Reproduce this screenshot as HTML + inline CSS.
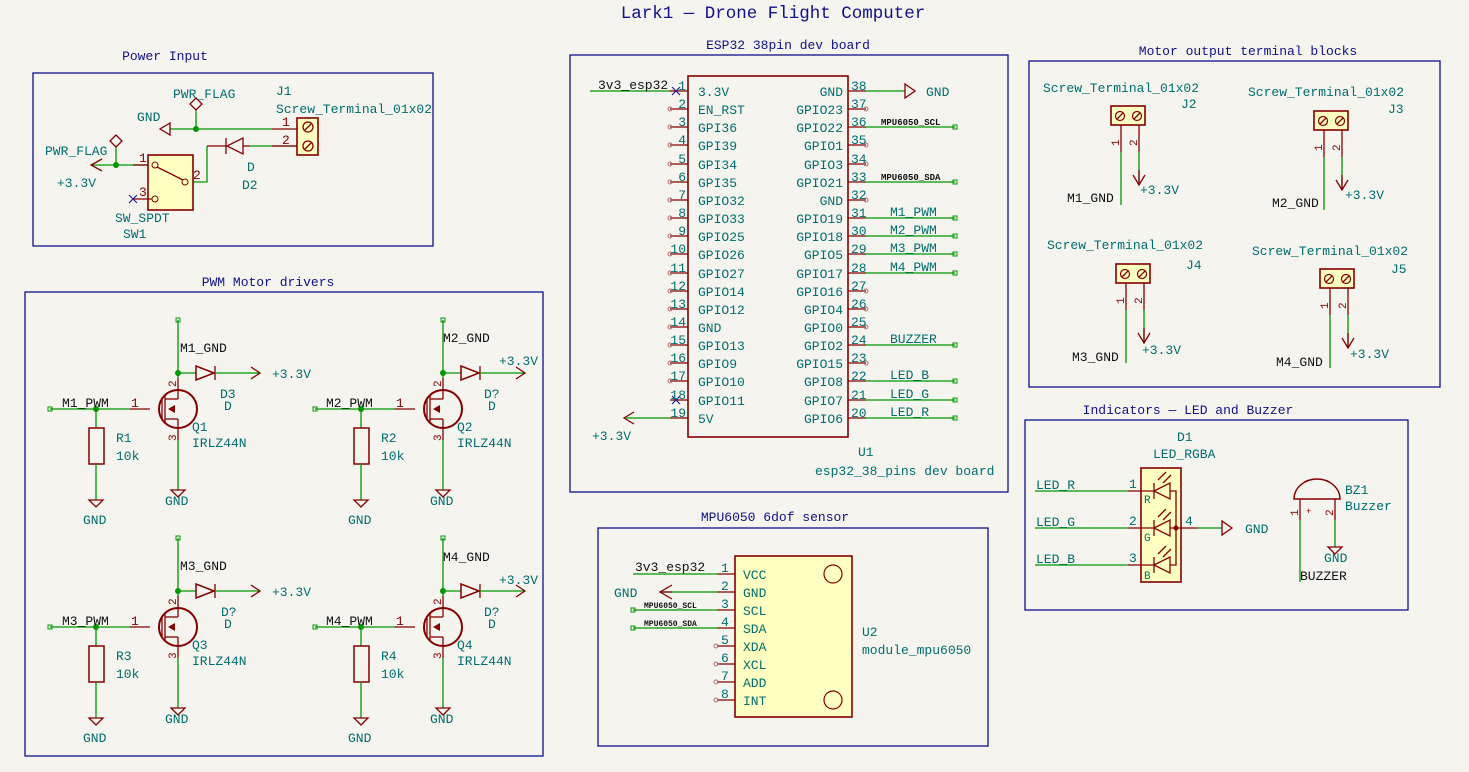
<!DOCTYPE html>
<html><head><meta charset="utf-8"><style>
html,body{margin:0;padding:0;background:#f5f4ef;}
svg{display:block;}
text{font-family:"Liberation Mono",monospace;font-size:13px;fill:#006e6e;}
.k{fill:#111;}
.r{fill:#840000;}
.s{font-size:9px;fill:#111;font-weight:bold;}
.ti{fill:#10108a;}
.w{stroke:#009600;stroke-width:1.3;fill:none;}
.p{stroke:#840000;stroke-width:1.3;fill:none;}
.b{stroke:#10108a;stroke-width:1.3;fill:none;}
.y{fill:#ffffc2;stroke:#840000;stroke-width:1.6;}
.j{fill:#009600;}
.nc{stroke:#2020a0;stroke-width:1.2;}
.oc{fill:none;stroke:#b07070;stroke-width:1;}
</style></head><body>
<svg width="1469" height="772" viewBox="0 0 1469 772" xmlns="http://www.w3.org/2000/svg">
<rect width="1469" height="772" fill="#f5f4ef"/>
<text x="773" y="18" text-anchor="middle" class="ti" style="font-size:17.5px">Lark1 — Drone Flight Computer</text>

<!-- Power Input -->
<rect x="33" y="73" width="400" height="173" class="b"/>
<text x="165" y="60" text-anchor="middle" class="ti">Power Input</text>
<text x="276" y="95">J1</text>
<text x="276" y="113">Screw_Terminal_01x02</text>
<rect x="297" y="118" width="21" height="37" class="y"/>
<circle cx="308" cy="127" r="5" fill="none" stroke="#840000" stroke-width="1.3"/>
<circle cx="308" cy="146" r="5" fill="none" stroke="#840000" stroke-width="1.3"/>
<line x1="305" y1="130" x2="311" y2="124" class="p"/><line x1="305" y1="149" x2="311" y2="143" class="p"/>
<line x1="170" y1="129" x2="272" y2="129" class="w"/><line x1="272" y1="129" x2="297" y2="129" class="p"/>
<text x="282" y="126" class="r">1</text><text x="282" y="144" class="r">2</text>
<path d="M170 123 L160 129 L170 135 Z" class="p"/>
<text x="137" y="121">GND</text>
<line x1="196" y1="129" x2="196" y2="110" class="w"/>
<path d="M196 98 L202 104 L196 110 L190 104 Z" class="p"/>
<text x="173" y="98">PWR_FLAG</text>
<circle cx="196" cy="129" r="3" class="j"/>
<line x1="250" y1="146" x2="297" y2="146" class="w"/><line x1="272" y1="146" x2="297" y2="146" class="p"/>
<path d="M243 138 L243 154 L227 146 Z" class="p"/><line x1="226" y1="138" x2="226" y2="154" class="p"/>
<line x1="243" y1="146" x2="250" y2="146" class="p"/><line x1="207" y1="146" x2="226" y2="146" class="p"/>
<path d="M207 146 L207 182 L193 182" class="w"/>
<text x="247" y="171">D</text><text x="242" y="189">D2</text>
<rect x="148" y="155" width="45" height="55" class="y"/>
<circle cx="155" cy="165" r="3" fill="none" stroke="#840000"/>
<circle cx="185" cy="182" r="3" fill="none" stroke="#840000"/>
<circle cx="155" cy="199" r="3" fill="none" stroke="#840000"/>
<line x1="157" y1="167" x2="183" y2="180" class="p"/>
<line x1="92" y1="165" x2="148" y2="165" class="w"/>
<line x1="133" y1="165" x2="148" y2="165" class="p"/>
<line x1="133" y1="199" x2="152" y2="199" class="p"/>
<text x="139" y="162" class="r">1</text><text x="139" y="196" class="r">3</text><text x="193" y="179" class="r">2</text>
<path d="M102 159 L91 165 L102 171" class="p"/>
<text x="57" y="187">+3.3V</text>
<line x1="116" y1="165" x2="116" y2="146" class="w"/>
<path d="M116 135 L122 141 L116 147 L110 141 Z" class="p"/>
<text x="45" y="155">PWR_FLAG</text>
<circle cx="116" cy="165" r="3" class="j"/>
<path d="M129 195 L137 203 M137 195 L129 203" class="nc"/>
<text x="115" y="222">SW_SPDT</text><text x="123" y="238">SW1</text>

<!-- PWM Motor drivers -->
<rect x="25" y="292" width="518" height="464" class="b"/>
<text x="268" y="286" text-anchor="middle" class="ti">PWM Motor drivers</text>

<g id="m1">
<line x1="50" y1="409" x2="130" y2="409" class="w"/><rect x="48" y="407" width="4" height="4" fill="none" stroke="#009600"/>
<line x1="130" y1="409" x2="150" y2="409" class="p"/>
<circle cx="96" cy="409" r="3" class="j"/>
<line x1="96" y1="409" x2="96" y2="428" class="w"/>
<rect x="89" y="428" width="15" height="36" fill="none" stroke="#840000" stroke-width="1.5"/>
<line x1="96" y1="464" x2="96" y2="500" class="w"/>
<path d="M89 500 L103 500 L96 507 Z" class="p"/>
<circle cx="178" cy="409" r="19" fill="none" stroke="#840000" stroke-width="2"/>
<line x1="162" y1="398" x2="162" y2="420" class="p"/><line x1="165" y1="396" x2="165" y2="422" class="p"/>
<line x1="165" y1="399" x2="178" y2="399" class="p"/><line x1="165" y1="419" x2="178" y2="419" class="p"/>
<line x1="178" y1="378" x2="178" y2="399" class="p"/><line x1="178" y1="419" x2="178" y2="440" class="p"/>
<path d="M168 409 L175 405 L175 413 Z" fill="#840000"/>
<line x1="178" y1="320" x2="178" y2="378" class="w"/><rect x="176" y="318" width="4" height="4" fill="none" stroke="#009600"/>
<line x1="178" y1="440" x2="178" y2="490" class="w"/>
<path d="M171 490 L185 490 L178 497 Z" class="p"/>
<circle cx="178" cy="373" r="3" class="j"/>
<line x1="178" y1="373" x2="196" y2="373" class="w"/>
<path d="M196 366 L196 380 L214 373 Z" fill="none" stroke="#840000" stroke-width="1.5"/><line x1="215" y1="366" x2="215" y2="380" class="p"/>
<line x1="215" y1="373" x2="260" y2="373" class="w"/>
<path d="M251 367 L260 373 L251 379" class="p"/>
<text x="0" y="0" class="r" transform="translate(176,387) rotate(-90)" style="font-size:11px">2</text>
<text x="0" y="0" class="r" transform="translate(176,441) rotate(-90)" style="font-size:11px">3</text>
</g>
<text x="62" y="407" class="k">M1_PWM</text><text x="131" y="407" class="r">1</text>
<text x="116" y="442">R1</text><text x="116" y="460">10k</text>
<text x="83" y="524">GND</text><text x="165" y="505">GND</text>
<text x="180" y="352" class="k">M1_GND</text><text x="272" y="378">+3.3V</text>
<text x="220" y="398">D3</text><text x="224" y="410">D</text>
<text x="192" y="431">Q1</text><text x="192" y="447">IRLZ44N</text>

<use href="#m1" transform="translate(265,0)"/>
<text x="326" y="407" class="k">M2_PWM</text><text x="396" y="407" class="r">1</text>
<text x="381" y="442">R2</text><text x="381" y="460">10k</text>
<text x="348" y="524">GND</text><text x="430" y="505">GND</text>
<text x="443" y="342" class="k">M2_GND</text><text x="499" y="365">+3.3V</text>
<text x="484" y="398">D?</text><text x="488" y="410">D</text>
<text x="457" y="431">Q2</text><text x="457" y="447">IRLZ44N</text>

<use href="#m1" transform="translate(0,218)"/>
<text x="62" y="625" class="k">M3_PWM</text><text x="131" y="625" class="r">1</text>
<text x="116" y="660">R3</text><text x="116" y="678">10k</text>
<text x="83" y="742">GND</text><text x="165" y="723">GND</text>
<text x="180" y="570" class="k">M3_GND</text><text x="272" y="596">+3.3V</text>
<text x="221" y="616">D?</text><text x="224" y="628">D</text>
<text x="192" y="649">Q3</text><text x="192" y="665">IRLZ44N</text>

<use href="#m1" transform="translate(265,218)"/>
<text x="326" y="625" class="k">M4_PWM</text><text x="396" y="625" class="r">1</text>
<text x="381" y="660">R4</text><text x="381" y="678">10k</text>
<text x="348" y="742">GND</text><text x="430" y="723">GND</text>
<text x="443" y="561" class="k">M4_GND</text><text x="499" y="584">+3.3V</text>
<text x="484" y="616">D?</text><text x="488" y="628">D</text>
<text x="457" y="649">Q4</text><text x="457" y="665">IRLZ44N</text>

<!-- ESP32 -->
<rect x="570" y="55" width="438" height="437" class="b"/>
<text x="788" y="49" text-anchor="middle" class="ti">ESP32 38pin dev board</text>
<rect x="688" y="76" width="160" height="361" fill="none" stroke="#840000" stroke-width="1.6"/>
<g class="p">
<path d="M670 91H688M670 109H688M670 127H688M670 145H688M670 164H688M670 182H688M670 200H688M670 218H688M670 236H688M670 254H688M670 273H688M670 291H688M670 309H688M670 327H688M670 345H688M670 363H688M670 381H688M670 400H688M670 418H688"/>
<path d="M848 91H866M848 109H866M848 127H866M848 145H866M848 164H866M848 182H866M848 200H866M848 218H866M848 236H866M848 254H866M848 273H866M848 291H866M848 309H866M848 327H866M848 345H866M848 363H866M848 381H866M848 400H866M848 418H866"/>
</g>
<g class="oc">
<circle cx="670" cy="109" r="2"/><circle cx="670" cy="127" r="2"/><circle cx="670" cy="145" r="2"/><circle cx="670" cy="164" r="2"/><circle cx="670" cy="182" r="2"/><circle cx="670" cy="200" r="2"/><circle cx="670" cy="218" r="2"/><circle cx="670" cy="236" r="2"/><circle cx="670" cy="254" r="2"/><circle cx="670" cy="273" r="2"/><circle cx="670" cy="291" r="2"/><circle cx="670" cy="309" r="2"/><circle cx="670" cy="327" r="2"/><circle cx="670" cy="345" r="2"/><circle cx="670" cy="363" r="2"/><circle cx="670" cy="381" r="2"/>
<circle cx="866" cy="109" r="2"/><circle cx="866" cy="145" r="2"/><circle cx="866" cy="164" r="2"/><circle cx="866" cy="200" r="2"/><circle cx="866" cy="291" r="2"/><circle cx="866" cy="309" r="2"/><circle cx="866" cy="327" r="2"/><circle cx="866" cy="363" r="2"/>
</g>
<path d="M672 87 L680 95 M680 87 L672 95 M672 396 L680 404 M680 396 L672 404" class="nc"/>
<g class="r" text-anchor="end">
<text x="686" y="90">1</text><text x="686" y="108">2</text><text x="686" y="126">3</text><text x="686" y="144">4</text><text x="686" y="163">5</text><text x="686" y="181">6</text><text x="686" y="199">7</text><text x="686" y="217">8</text><text x="686" y="235">9</text><text x="686" y="253">10</text><text x="686" y="272">11</text><text x="686" y="290">12</text><text x="686" y="308">13</text><text x="686" y="326">14</text><text x="686" y="344">15</text><text x="686" y="362">16</text><text x="686" y="380">17</text><text x="686" y="399">18</text><text x="686" y="417">19</text>
</g>
<g class="r">
<text x="851" y="90">38</text><text x="851" y="108">37</text><text x="851" y="126">36</text><text x="851" y="144">35</text><text x="851" y="163">34</text><text x="851" y="181">33</text><text x="851" y="199">32</text><text x="851" y="217">31</text><text x="851" y="235">30</text><text x="851" y="253">29</text><text x="851" y="272">28</text><text x="851" y="290">27</text><text x="851" y="308">26</text><text x="851" y="326">25</text><text x="851" y="344">24</text><text x="851" y="362">23</text><text x="851" y="380">22</text><text x="851" y="399">21</text><text x="851" y="417">20</text>
</g>
<g>
<text x="698" y="96">3.3V</text><text x="698" y="114">EN_RST</text><text x="698" y="132">GPI36</text><text x="698" y="150">GPI39</text><text x="698" y="169">GPI34</text><text x="698" y="187">GPI35</text><text x="698" y="205">GPIO32</text><text x="698" y="223">GPIO33</text><text x="698" y="241">GPIO25</text><text x="698" y="259">GPIO26</text><text x="698" y="278">GPIO27</text><text x="698" y="296">GPIO14</text><text x="698" y="314">GPIO12</text><text x="698" y="332">GND</text><text x="698" y="350">GPIO13</text><text x="698" y="368">GPIO9</text><text x="698" y="386">GPIO10</text><text x="698" y="405">GPIO11</text><text x="698" y="423">5V</text>
</g>
<g text-anchor="end">
<text x="843" y="96">GND</text><text x="843" y="114">GPIO23</text><text x="843" y="132">GPIO22</text><text x="843" y="150">GPIO1</text><text x="843" y="169">GPIO3</text><text x="843" y="187">GPIO21</text><text x="843" y="205">GND</text><text x="843" y="223">GPIO19</text><text x="843" y="241">GPIO18</text><text x="843" y="259">GPIO5</text><text x="843" y="278">GPIO17</text><text x="843" y="296">GPIO16</text><text x="843" y="314">GPIO4</text><text x="843" y="332">GPIO0</text><text x="843" y="350">GPIO2</text><text x="843" y="368">GPIO15</text><text x="843" y="386">GPIO8</text><text x="843" y="405">GPIO7</text><text x="843" y="423">GPIO6</text>
</g>
<line x1="590" y1="91" x2="670" y2="91" class="w"/><text x="598" y="89" class="k">3v3_esp32</text>
<line x1="626" y1="418" x2="670" y2="418" class="w"/><path d="M634 412 L624 418 L634 424" class="p"/><text x="592" y="440">+3.3V</text>
<line x1="866" y1="91" x2="905" y2="91" class="w"/><path d="M905 84 L905 98 L915 91 Z" class="p"/><text x="926" y="96">GND</text>
<g class="w"><path d="M866 127H955M866 182H955M866 218H955M866 236H955M866 254H955M866 273H955M866 345H955M866 381H955M866 400H955M866 418H955"/></g>
<g fill="none" stroke="#009600"><rect x="953" y="125" width="4" height="4"/><rect x="953" y="180" width="4" height="4"/><rect x="953" y="216" width="4" height="4"/><rect x="953" y="234" width="4" height="4"/><rect x="953" y="252" width="4" height="4"/><rect x="953" y="271" width="4" height="4"/><rect x="953" y="343" width="4" height="4"/><rect x="953" y="379" width="4" height="4"/><rect x="953" y="398" width="4" height="4"/><rect x="953" y="416" width="4" height="4"/></g>
<text x="881" y="125" class="s">MPU6050_SCL</text><text x="881" y="180" class="s">MPU6050_SDA</text>
<g class="k"><text x="890" y="216">M1_PWM</text><text x="890" y="234">M2_PWM</text><text x="890" y="252">M3_PWM</text><text x="890" y="271">M4_PWM</text><text x="890" y="343">BUZZER</text><text x="890" y="379">LED_B</text><text x="890" y="398">LED_G</text><text x="890" y="416">LED_R</text></g>
<text x="858" y="456">U1</text><text x="815" y="475">esp32_38_pins dev board</text>

<!-- MPU6050 -->
<rect x="598" y="528" width="390" height="218" class="b"/>
<text x="775" y="521" text-anchor="middle" class="ti">MPU6050 6dof sensor</text>
<rect x="735" y="556" width="117" height="161" class="y"/>
<circle cx="833" cy="574" r="9" fill="none" stroke="#840000" stroke-width="1.2"/>
<circle cx="833" cy="700" r="9" fill="none" stroke="#840000" stroke-width="1.2"/>
<g class="p"><path d="M717 574H735M717 592H735M717 610H735M717 628H735M717 646H735M717 664H735M717 682H735M717 700H735"/></g>
<g class="oc"><circle cx="716" cy="646" r="2"/><circle cx="716" cy="664" r="2"/><circle cx="716" cy="682" r="2"/><circle cx="716" cy="700" r="2"/></g>
<g class="r"><text x="721" y="572">1</text><text x="721" y="590">2</text><text x="721" y="608">3</text><text x="721" y="626">4</text><text x="721" y="644">5</text><text x="721" y="662">6</text><text x="721" y="680">7</text><text x="721" y="698">8</text></g>
<g><text x="743" y="579">VCC</text><text x="743" y="597">GND</text><text x="743" y="615">SCL</text><text x="743" y="633">SDA</text><text x="743" y="651">XDA</text><text x="743" y="669">XCL</text><text x="743" y="687">ADD</text><text x="743" y="705">INT</text></g>
<line x1="633" y1="574" x2="717" y2="574" class="w"/><text x="635" y="571" class="k">3v3_esp32</text>
<line x1="662" y1="592" x2="717" y2="592" class="w"/><path d="M672 585 L660 592 L672 599" class="p"/><line x1="660" y1="592" x2="672" y2="592" class="p"/><text x="614" y="597">GND</text>
<line x1="633" y1="610" x2="717" y2="610" class="w"/><line x1="633" y1="628" x2="717" y2="628" class="w"/>
<rect x="631" y="608" width="4" height="4" fill="none" stroke="#009600"/><rect x="631" y="626" width="4" height="4" fill="none" stroke="#009600"/>
<text x="644" y="608" class="s" style="font-size:8px">MPU6050_SCL</text><text x="644" y="626" class="s" style="font-size:8px">MPU6050_SDA</text>
<text x="862" y="636">U2</text><text x="862" y="654">module_mpu6050</text>

<!-- Motor outputs -->
<rect x="1029" y="61" width="411" height="326" class="b"/>
<text x="1248" y="55" text-anchor="middle" class="ti">Motor output terminal blocks</text>
<g id="jt">
<rect x="1111" y="106" width="34" height="19" class="y"/>
<circle cx="1120" cy="116" r="4.5" fill="none" stroke="#840000" stroke-width="1.2"/><circle cx="1137" cy="116" r="4.5" fill="none" stroke="#840000" stroke-width="1.2"/>
<path d="M1117 119L1123 113M1134 119L1140 113" class="p"/>
<line x1="1121" y1="125" x2="1121" y2="152" class="p"/><line x1="1121" y1="152" x2="1121" y2="205" class="w"/>
<line x1="1139" y1="125" x2="1139" y2="152" class="p"/><line x1="1139" y1="152" x2="1139" y2="185" class="w"/>
<path d="M1133 175 L1139 185 L1145 175" class="p"/><line x1="1139" y1="170" x2="1139" y2="185" class="p"/>
<text x="0" y="0" class="r" transform="translate(1119,146) rotate(-90)" style="font-size:11px">1</text>
<text x="0" y="0" class="r" transform="translate(1137,146) rotate(-90)" style="font-size:11px">2</text>
</g>
<text x="1043" y="92">Screw_Terminal_01x02</text><text x="1181" y="108">J2</text>
<text x="1067" y="202" class="k">M1_GND</text><text x="1140" y="194">+3.3V</text>
<use href="#jt" transform="translate(203,5)"/>
<text x="1248" y="96">Screw_Terminal_01x02</text><text x="1388" y="113">J3</text>
<text x="1272" y="207" class="k">M2_GND</text><text x="1345" y="199">+3.3V</text>
<use href="#jt" transform="translate(5,158)"/>
<text x="1047" y="249">Screw_Terminal_01x02</text><text x="1186" y="269">J4</text>
<text x="1072" y="361" class="k">M3_GND</text><text x="1142" y="354">+3.3V</text>
<use href="#jt" transform="translate(209,163)"/>
<text x="1252" y="255">Screw_Terminal_01x02</text><text x="1391" y="273">J5</text>
<text x="1276" y="366" class="k">M4_GND</text><text x="1350" y="358">+3.3V</text>

<!-- Indicators -->
<rect x="1025" y="420" width="383" height="190" class="b"/>
<text x="1188" y="414" text-anchor="middle" class="ti">Indicators — LED and Buzzer</text>
<text x="1177" y="441">D1</text><text x="1153" y="458">LED_RGBA</text>
<rect x="1141" y="468" width="40" height="114" class="y"/>
<g class="p">
<path d="M1128 491H1154M1128 528H1154M1128 565H1154"/>
<path d="M1154 491L1170 483L1170 499Z M1154 483V499 M1154 528L1170 520L1170 536Z M1154 520V536 M1154 565L1170 557L1170 573Z M1154 557V573"/>
<path d="M1170 491H1176V565H1170 M1170 528H1180"/>
<path d="M1158 480L1166 472M1163 483L1171 475M1158 517L1166 509M1163 520L1171 512M1158 554L1166 546M1163 557L1171 549"/>
<path d="M1180 528H1198"/>
</g>
<circle cx="1176" cy="528" r="2.5" fill="#840000"/>
<g class="r"><text x="1129" y="488">1</text><text x="1129" y="525">2</text><text x="1129" y="562">3</text><text x="1185" y="525">4</text>
<text x="1144" y="503" style="font-size:11px">R</text><text x="1144" y="541" style="font-size:11px">G</text><text x="1144" y="579" style="font-size:11px">B</text></g>
<path d="M1035 491H1128M1035 528H1128M1035 565H1128M1198 528H1222" class="w"/>
<path d="M1222 521L1222 535L1232 528Z" class="p"/><text x="1245" y="533">GND</text>
<g class="k"><text x="1036" y="489">LED_R</text><text x="1036" y="526">LED_G</text><text x="1036" y="563">LED_B</text></g>
<path d="M1294 499 A23 20 0 0 1 1340 499 Z" fill="none" stroke="#840000" stroke-width="1.4"/>
<path d="M1300 499V520M1335 499V520" class="p"/>
<path d="M1300 520V582M1335 520V547" class="w"/>
<path d="M1328 547L1342 547L1335 554Z" class="p"/>
<text x="1345" y="494">BZ1</text><text x="1345" y="510">Buzzer</text>
<text x="1324" y="562">GND</text><text x="1300" y="580" class="k">BUZZER</text>
<text x="1306" y="514" class="r" style="font-size:9px">+</text>
<text x="0" y="0" class="r" transform="translate(1298,516) rotate(-90)" style="font-size:11px">1</text>
<text x="0" y="0" class="r" transform="translate(1333,516) rotate(-90)" style="font-size:11px">2</text>
</svg>
</body></html>
